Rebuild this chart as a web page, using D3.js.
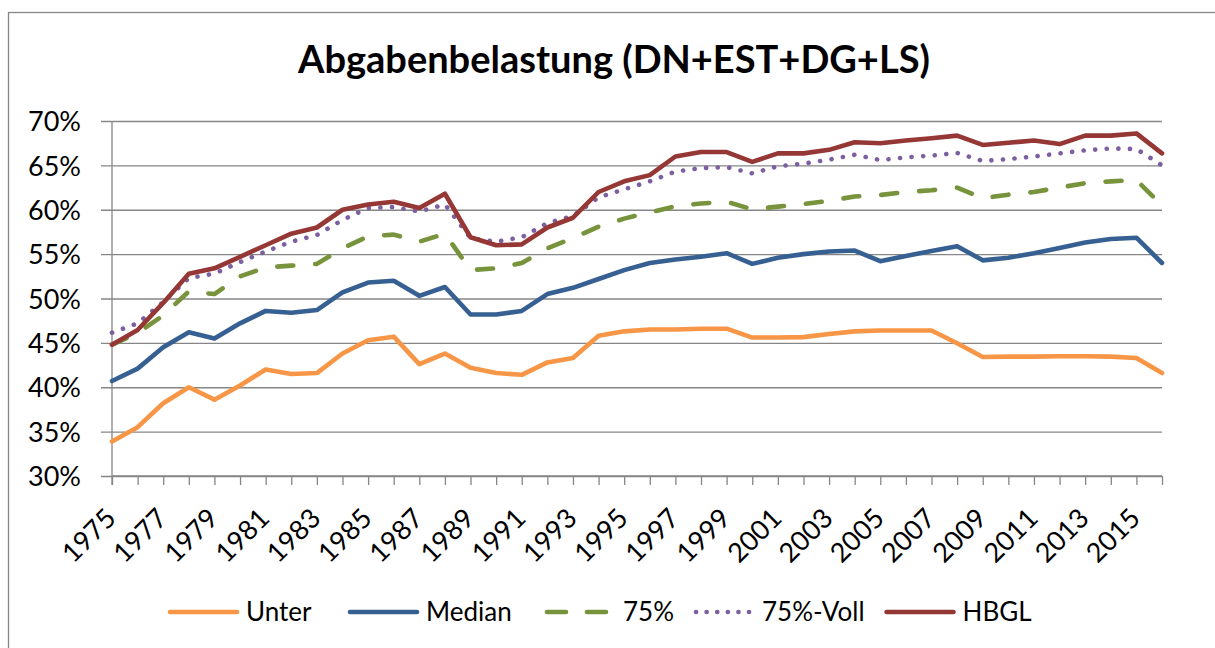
<!DOCTYPE html>
<html>
<head>
<meta charset="utf-8">
<script src="https://cdn.jsdelivr.net/npm/d3@7"></script>
<style>
  body { margin: 0; background: #fff; }
  text { font-family: Lato, "Open Sans", sans-serif; fill: #000; }
</style>
</head>
<body>
<div id="chart"></div>
<script>
const years = [1975, 1976, 1977, 1978, 1979, 1980, 1981, 1982, 1983, 1984,
  1985, 1986, 1987, 1988, 1989, 1990, 1991, 1992, 1993, 1994,
  1995, 1996, 1997, 1998, 1999, 2000, 2001, 2002, 2003, 2004,
  2005, 2006, 2007, 2008, 2009, 2010, 2011, 2012, 2013, 2014,
  2015, 2016];

const unter = [33.9, 35.5, 38.2, 40.0, 38.6, 40.2, 42.0, 41.5, 41.6, 43.8,
  45.3, 45.7, 42.6, 43.8, 42.2, 41.6, 41.4, 42.8, 43.3, 45.8,
  46.3, 46.5, 46.5, 46.6, 46.6, 45.6, 45.6, 45.65, 46.0, 46.3,
  46.4, 46.4, 46.4, 44.95, 43.4, 43.45, 43.45, 43.5, 43.5, 43.45,
  43.3, 41.6];

const median = [40.7, 42.1, 44.5, 46.2, 45.5, 47.2, 48.6, 48.4, 48.7, 50.7,
  51.8, 52.0, 50.3, 51.3, 48.2, 48.2, 48.6, 50.5, 51.2, 52.2,
  53.2, 54.0, 54.4, 54.7, 55.1, 53.9, 54.6, 55.0, 55.3, 55.4,
  54.2, 54.8, 55.35, 55.9, 54.3, 54.6, 55.1, 55.7, 56.3, 56.7,
  56.85, 54.0];

const p75 = [44.8, 46.1, 48.1, 50.8, 50.5, 52.5, 53.5, 53.7, 53.9, 55.65,
  57.0, 57.2, 56.4, 57.3, 53.2, 53.4, 54.0, 55.65, 56.8, 58.1,
  59.0, 59.7, 60.4, 60.7, 60.9, 60.05, 60.35, 60.65, 61.0, 61.5,
  61.66, 62.0, 62.2, 62.5, 61.3, 61.7, 62.0, 62.5, 63.0, 63.2,
  63.35, 60.5];

const p75Voll = [46.15, 47.2, 49.6, 52.3, 52.8, 54.1, 55.3, 56.4, 57.15, 58.85,
  60.2, 60.3, 59.8, 60.6, 56.8, 56.4, 56.9, 58.5, 59.3, 61.4,
  62.3, 63.2, 64.3, 64.7, 64.8, 64.1, 64.9, 65.2, 65.65, 66.2,
  65.6, 65.9, 66.1, 66.4, 65.5, 65.7, 66.0, 66.35, 66.7, 66.9,
  66.85, 65.0];

const hbgl = [44.8, 46.45, 49.5, 52.8, 53.4, 54.7, 56.0, 57.3, 58.0, 60.0,
  60.6, 60.9, 60.2, 61.8, 56.9, 56.0, 56.1, 58.0, 59.1, 62.0,
  63.2, 63.9, 66.0, 66.5, 66.5, 65.4, 66.35, 66.35, 66.75, 67.6,
  67.5, 67.8, 68.05, 68.35, 67.3, 67.55, 67.8, 67.4, 68.35, 68.35,
  68.6, 66.35];

const yTicks = [30, 35, 40, 45, 50, 55, 60, 65, 70];
const xLabels = [1975, 1977, 1979, 1981, 1983, 1985, 1987, 1989, 1991, 1993,
  1995, 1997, 1999, 2001, 2003, 2005, 2007, 2009, 2011, 2013, 2015];

const seriesNames = ['Unter', 'Median', '75%', '75%-Voll', 'HBGL'];
const seriesValues = [unter, median, p75, p75Voll, hbgl];

const w = 1215;
const h = 648;
const plotL = 112, plotR = 1162, plotT = 121, plotB = 476;

const styles = [
  { color: '#F79646', dash: null },
  { color: '#376092', dash: null },
  { color: '#77933C', dash: '16 22' },
  { color: '#7B5FA0', dash: '0.1 11.5' },
  { color: '#953735', dash: null }
];

const svg = d3.select('#chart')
  .append('svg')
  .attr('width', w)
  .attr('height', h);

// chart frame (runs off the right/bottom edge like the original)
svg.append('rect')
  .attr('x', 8.5)
  .attr('y', 12.5)
  .attr('width', 1260)
  .attr('height', 700)
  .attr('fill', 'none')
  .attr('stroke', '#868686')
  .attr('stroke-width', 1.3);

svg.append('text')
  .attr('x', 614)
  .attr('y', 73)
  .attr('text-anchor', 'middle')
  .style('font-size', '38px')
  .style('font-weight', 'bold')
  .text('Abgabenbelastung (DN+EST+DG+LS)');

const xScale = d3.scalePoint()
  .domain(years)
  .range([plotL, plotR]);

const yScale = d3.scaleLinear()
  .domain([30, 70])
  .range([plotB, plotT]);

// y axis with gridlines
const yAxis = d3.axisLeft(yScale)
  .tickValues(yTicks)
  .tickSize(-(plotR - plotL))
  .tickFormat(d => d + '%');

const gy = svg.append('g')
  .attr('transform', 'translate(' + plotL + ',0)')
  .call(yAxis);
gy.select('.domain').remove();
gy.selectAll('.tick line')
  .attr('x1', -11)
  .attr('stroke', '#868686')
  .attr('stroke-width', 1.3);
gy.selectAll('.tick text')
  .attr('x', -31)
  .attr('dy', '0.36em')
  .style('font-size', '27px')
  .style('font-family', 'Lato, sans-serif');

svg.append('line')
  .attr('x1', plotL).attr('x2', plotL)
  .attr('y1', plotT).attr('y2', plotB + 9)
  .attr('stroke', '#868686')
  .attr('stroke-width', 1.3);

// x axis
const xAxis = d3.axisBottom(xScale)
  .tickSize(9)
  .tickFormat(d => xLabels.includes(d) ? d : '');

const gx = svg.append('g')
  .attr('transform', 'translate(0,' + plotB + ')')
  .call(xAxis);
gx.select('.domain')
  .attr('d', 'M' + plotL + ',0H' + plotR)
  .attr('stroke', '#868686')
  .attr('stroke-width', 1.3);
gx.selectAll('.tick line')
  .attr('stroke', '#868686')
  .attr('stroke-width', 1.3);
gx.selectAll('.tick text')
  .attr('y', 0)
  .attr('dy', 0)
  .attr('text-anchor', 'end')
  .attr('transform', 'translate(5,44) rotate(-45)')
  .style('font-size', '27px')
  .style('font-family', 'Lato, sans-serif');

// series
const line = d3.line()
  .x((d, i) => xScale(years[i]))
  .y(d => yScale(d));

seriesValues.forEach((vals, k) => {
  svg.append('path')
    .datum(vals)
    .attr('d', line)
    .attr('fill', 'none')
    .attr('stroke', styles[k].color)
    .attr('stroke-width', 4.6)
    .attr('stroke-linejoin', 'round')
    .attr('stroke-linecap', 'round')
    .attr('stroke-dasharray', styles[k].dash);
});

// legend: text start positions as in the original layout,
// pushed right when the previous label runs long
const legendTextX = [246, 426, 623, 761, 944];
const ly = 612;
const legend = svg.append('g');
let prevEnd = 0;
seriesNames.forEach((name, k) => {
  let x1 = legendTextX[k] - (k === 3 ? 66 : 76);
  if (x1 < prevEnd + 22) x1 = prevEnd + 22;
  const tx = x1 + (k === 3 ? 66 : 76);
  legend.append('line')
    .attr('x1', x1)
    .attr('x2', tx - 9)
    .attr('y1', ly).attr('y2', ly)
    .attr('stroke', styles[k].color)
    .attr('stroke-width', 4.6)
    .attr('stroke-linecap', 'round')
    .attr('stroke-dasharray', k === 2 ? '19 21' : (k === 3 ? '0.1 10.5' : null));
  const t = legend.append('text')
    .attr('x', tx)
    .attr('y', ly)
    .attr('dy', '0.36em')
    .style('font-size', '26px')
    .text(name);
  prevEnd = tx + t.node().getComputedTextLength();
});
</script>
</body>
</html>
